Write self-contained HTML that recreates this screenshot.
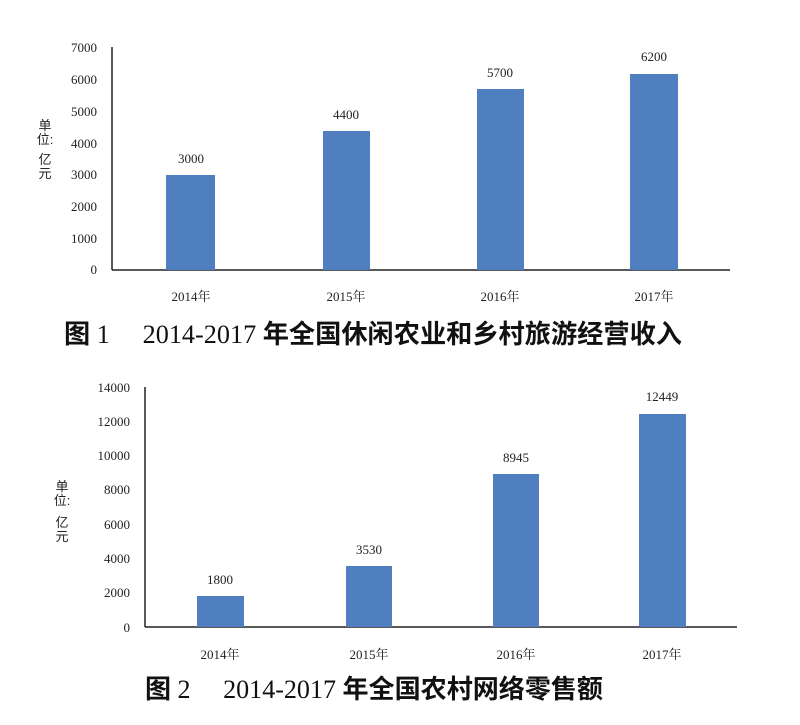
<!DOCTYPE html>
<html><head><meta charset="utf-8"><style>
html,body{margin:0;padding:0;background:#fff;}
svg{display:block;}
.t{font-family:"Liberation Serif","Noto Serif CJK SC",serif;font-size:13px;fill:#222;}
.c{font-family:"Liberation Sans","Noto Sans CJK SC",sans-serif;font-size:13px;fill:#222;}
.ti{font-family:"Liberation Serif","Noto Sans CJK SC",sans-serif;font-size:26px;fill:#111;}
.b{font-weight:bold;}
</style></head><body>
<svg width="800" height="725" viewBox="0 0 800 725" xmlns="http://www.w3.org/2000/svg">
<rect width="800" height="725" fill="#fff"/>
<!-- Chart 1 -->
<g class="t" text-anchor="end">
<text x="97" y="274">0</text><text x="97" y="243">1000</text><text x="97" y="211">2000</text><text x="97" y="179">3000</text><text x="97" y="148">4000</text><text x="97" y="116">5000</text><text x="97" y="84">6000</text><text x="97" y="52">7000</text>
</g>
<g class="c" text-anchor="middle"><text x="45" y="130">单</text><text x="45" y="144">位:</text><text x="45" y="164">亿</text><text x="45" y="178">元</text></g>
<line x1="112" y1="47" x2="112" y2="270" stroke="#222" stroke-width="1.5"/>
<line x1="112" y1="270" x2="730" y2="270" stroke="#222" stroke-width="1.5"/>
<g fill="#4f7fbe">
<rect x="166" y="175" width="49" height="95"/>
<rect x="323" y="131" width="47" height="139"/>
<rect x="477" y="89" width="47" height="181"/>
<rect x="630" y="74" width="48" height="196"/>
</g>
<g class="t" text-anchor="middle">
<text x="191" y="163">3000</text><text x="346" y="119">4400</text><text x="500" y="77">5700</text><text x="654" y="61">6200</text>
<text x="191" y="301">2014年</text><text x="346" y="301">2015年</text><text x="500" y="301">2016年</text><text x="654" y="301">2017年</text>
</g>
<text class="ti" x="64" y="343" textLength="618" lengthAdjust="spacingAndGlyphs"><tspan class="b">图</tspan> 1　 2014-2017 <tspan class="b">年全国休闲农业和乡村旅游经营收入</tspan></text>
<!-- Chart 2 -->
<g class="t" text-anchor="end">
<text x="130" y="632">0</text><text x="130" y="597">2000</text><text x="130" y="563">4000</text><text x="130" y="529">6000</text><text x="130" y="494">8000</text><text x="130" y="460">10000</text><text x="130" y="426">12000</text><text x="130" y="392">14000</text>
</g>
<g class="c" text-anchor="middle"><text x="62" y="491">单</text><text x="62" y="505">位:</text><text x="62" y="527">亿</text><text x="62" y="541">元</text></g>
<line x1="145" y1="387" x2="145" y2="627" stroke="#222" stroke-width="1.5"/>
<line x1="145" y1="627" x2="737" y2="627" stroke="#222" stroke-width="1.5"/>
<g fill="#4f7fbe">
<rect x="197" y="596" width="47" height="31"/>
<rect x="346" y="566" width="46" height="61"/>
<rect x="493" y="474" width="46" height="153"/>
<rect x="639" y="414" width="47" height="213"/>
</g>
<g class="t" text-anchor="middle">
<text x="220" y="584">1800</text><text x="369" y="554">3530</text><text x="516" y="462">8945</text><text x="662" y="401">12449</text>
<text x="220" y="659">2014年</text><text x="369" y="659">2015年</text><text x="516" y="659">2016年</text><text x="662" y="659">2017年</text>
</g>
<text class="ti" x="145" y="698" textLength="458" lengthAdjust="spacingAndGlyphs"><tspan class="b">图</tspan> 2　 2014-2017 <tspan class="b">年全国农村网络零售额</tspan></text>
</svg>
</body></html>
